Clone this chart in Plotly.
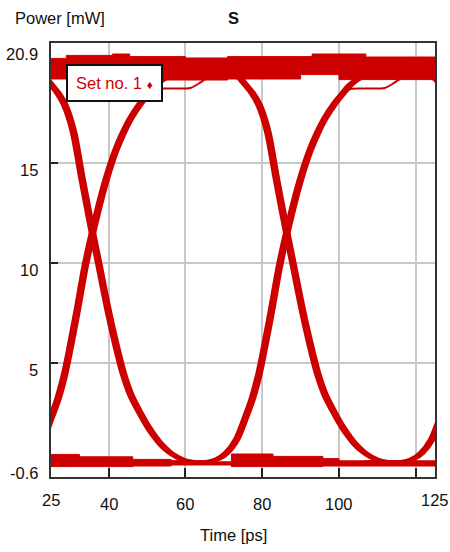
import plotly.graph_objects as go

# ---- eye-diagram data (time in ps, optical power in mW) ----
CROSSINGS = [35.8, 86.4, 137.2]          # eye crossing instants
EDGE_JITTER = [-0.55, 0.0, 0.55]         # spread of the overlaid transitions, ps

# falling transition, time relative to the crossing
FALL_DT = [-30, -18, -14, -12, -10.7, -9, -7.2, -5, -2.7, 0, 1.6, 4, 6, 8,
           10, 12.4, 14.5, 16.3, 18, 20, 22, 24.3, 27, 30]
FALL_P = [19.7, 19.7, 19.5, 19.2, 18.9, 18.5, 17.9, 16.6, 14.2, 11.5, 10.0, 7.7,
          6.0, 4.5, 3.4, 2.5, 1.8, 1.3, 0.9, 0.55, 0.3, 0.12, 0.05, 0.05]

# rising transition, time relative to the crossing
RISE_DT = [-30, -21, -18, -15.7, -13, -10.7, -9, -7.3, -6.3, -4, -1.95, 0, 3.3,
           6, 8, 10, 12.4, 14.5, 16.5, 19, 23, 30]
RISE_P = [0.05, 0.05, 0.2, 0.5, 1.2, 2.3, 3.2, 4.4, 5.3, 7.6, 9.8, 11.5, 14.0,
          15.6, 16.5, 17.25, 17.95, 18.45, 18.9, 19.25, 19.45, 19.6]

# slowly settling rising trace
SLOW_DT = [10, 12.4, 14.5, 16.5, 21, 25.5, 27.5, 30, 34]
SLOW_P = [17.25, 17.9, 18.4, 18.7, 18.72, 18.75, 18.95, 19.25, 19.4]

# "one" level band (step outline)
HIGH_T = [25, 29, 41, 45.5, 60, 71, 90, 93, 100, 107, 125]
HIGH_TOP = [20.23, 20.38, 20.45, 20.32, 20.25, 20.32, 20.32, 20.45, 20.45, 20.3, 20.3]
HIGH_BOT = [19.2, 19.2, 19.2, 19.15, 19.15, 19.2, 19.42, 19.42, 19.17, 19.17, 19.17]

# "zero" level band (step outline)
LOW_T = [25, 32.4, 46.3, 56.3, 72, 82.8, 95.8, 100, 125]
LOW_TOP = [0.43, 0.31, 0.18, 0.06, 0.45, 0.33, 0.22, 0.11, 0.11]
LOW_BOT = [-0.18, -0.18, -0.15, -0.1, -0.18, -0.18, -0.15, -0.15, -0.15]

X_GRID = [40, 60, 80, 100, 120]
X_LABELS = [25, 40, 60, 80, 100, 125]
Y_GRID = [5, 10, 15]
Y_LABELS = [20.9, 15, 10, 5, -0.6]

RED = "#cc0000"
FONT = "Liberation Sans, Arial, sans-serif"

fig = go.Figure()

# level bands
for t, bot, top in [(HIGH_T, HIGH_BOT, HIGH_TOP), (LOW_T, LOW_BOT, LOW_TOP)]:
    fig.add_trace(go.Scatter(x=t, y=bot, mode="lines", line=dict(color=RED, width=1, shape="hv"),
                             showlegend=False, hoverinfo="skip"))
    fig.add_trace(go.Scatter(x=t, y=top, mode="lines", line=dict(color=RED, width=1, shape="hv"),
                             fill="tonexty", fillcolor=RED, showlegend=False, hoverinfo="skip"))

# transitions at every crossing
for c in CROSSINGS:
    for j in EDGE_JITTER:
        for dts, ps in [(FALL_DT, FALL_P), (RISE_DT, RISE_P)]:
            fig.add_trace(go.Scatter(x=[c + d + j for d in dts], y=ps, mode="lines",
                                     line=dict(color=RED, width=3.3, shape="spline", smoothing=0.8),
                                     showlegend=False, hoverinfo="skip"))
    fig.add_trace(go.Scatter(x=[c + d for d in SLOW_DT], y=SLOW_P, mode="lines",
                             line=dict(color=RED, width=2, shape="spline", smoothing=0.8),
                             showlegend=False, hoverinfo="skip"))

axis_common = dict(ticks="inside", tickcolor="#222", tickwidth=1.5, showticklabels=False,
                   showgrid=True, gridcolor="#c8c8c8", gridwidth=1.5, zeroline=False,
                   showline=True, linecolor="#333", linewidth=2, mirror=True)
fig.update_xaxes(range=[25, 125], tickvals=X_GRID, ticklen=9, **axis_common)
fig.update_yaxes(range=[-0.7, 21.0], tickvals=Y_GRID, ticklen=7, **axis_common)

ann = []
for v in X_LABELS:
    ann.append(dict(x=v, y=0, xref="x", yref="paper", text=str(v), showarrow=False,
                    xanchor="center", yanchor="middle",
                    yshift=-23 if v in (25, 125) else -26.5,
                    font=dict(family=FONT, size=16.5, color="#111")))
y_shift = {20.9: -9, 15: -7, 10: -7, 5: -7, -0.6: 2.5}
for v in Y_LABELS:
    ann.append(dict(x=0, y=v, xref="paper", yref="y", text=str(v), showarrow=False,
                    xanchor="right", yanchor="middle", xshift=-11, yshift=y_shift[v],
                    font=dict(family=FONT, size=16.5, color="#111")))
ann += [
    dict(x=13, y=18, text="Power [mW]", showarrow=False),
    dict(x=233, y=18, text="<b>S</b>", showarrow=False),
    dict(x=233, y=535, text="Time [ps]", showarrow=False),
]
# place the titles by pixel position within the page
W, H = 450, 552
L, R, T, B = 51, 15, 43, 75
pw, ph = W - L - R, H - T - B
for a in ann[-3:]:
    px, py = a["x"], a["y"]
    a.update(xref="paper", yref="paper", x=(px - L) / pw, y=1 - (py - T) / ph,
             xanchor="left" if a["text"] == "Power [mW]" else "center", yanchor="middle",
             font=dict(family=FONT, size=16.5, color="#111"))

# series label box
ann.append(dict(xref="paper", yref="paper", x=(114 - L) / pw, y=1 - (83 - T) / ph,
                xanchor="center", yanchor="middle", showarrow=False,
                text="Set no. 1 <span style='font-size:12px'>\u2666</span>",
                font=dict(family=FONT, size=16.5, color=RED),
                bgcolor="white", bordercolor="#111", borderwidth=2, borderpad=8))

fig.update_layout(width=W, height=H, margin=dict(l=L, r=R, t=T, b=B),
                  paper_bgcolor="white", plot_bgcolor="white", showlegend=False,
                  annotations=ann)

fig.write_html("out.html")
